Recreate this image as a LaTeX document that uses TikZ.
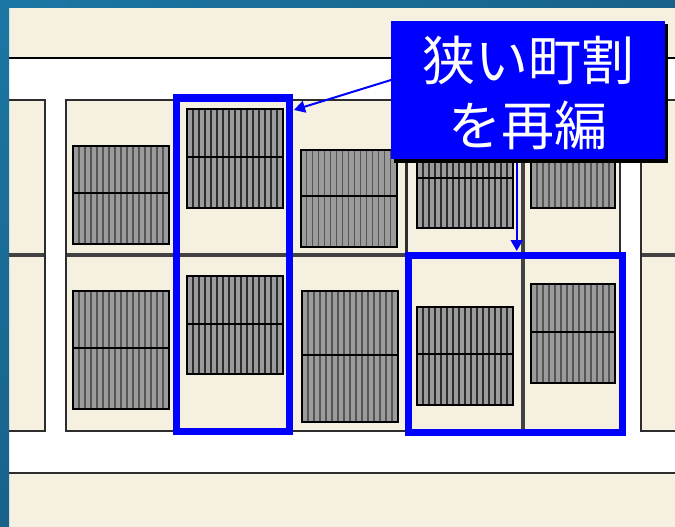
\documentclass[tikz,border=0pt]{standalone}
\usepackage{fontspec}
\newfontfamily\cjkfont{Noto Sans CJK JP}
\usetikzlibrary{arrows.meta}
\definecolor{beige}{RGB}{245,240,223}
\definecolor{roof}{RGB}{155,155,155}
\definecolor{stripeA}{RGB}{85,85,85}
\definecolor{stripeB}{RGB}{45,45,45}
\definecolor{lineG}{RGB}{45,45,45}
\definecolor{callblue}{RGB}{0,0,255}
\definecolor{tealA}{RGB}{27,118,163}
\definecolor{tealB}{RGB}{24,98,138}
\tikzset{
  blockline/.style={draw=lineG,line width=2pt,line cap=rect},
  heavyline/.style={draw=lineG!90!white,line width=3.2pt},
  outline/.style={draw=black,line width=2pt},
  redev/.style={draw=blue,line width=7pt,inner sep=0pt,outer sep=0pt,minimum width=#1},
  calloutbox/.style={fill=callblue,inner sep=0pt,outer sep=0pt,minimum width=274pt,minimum height=138pt},
  callouttext/.style={text=white,inner sep=0pt,align=center,font=\cjkfont\fontsize{53}{65}\selectfont},
  pointer/.style={draw=blue,line width=2pt,-{Triangle[length=11pt,width=12pt]}}
}
\begin{document}
\begin{tikzpicture}[x=1pt,y=-1pt]
\useasboundingbox (0,0) rectangle (675,527);
% frame and ground
\fill[beige] (0,0) rectangle (675,527);
\fill[white] (9,58) rectangle (675,473);
\draw[draw=black,line width=2pt] (9,58) -- (675,58);
\draw[draw=lineG,line width=2pt] (9,473) -- (675,473);
% blocks
\foreach \xa/\xb in {9/44.5,65.5/620,640.5/677}{
  \fill[beige] (\xa,99.5) rectangle (\xb,431);
  \draw[blockline] (\xa,99.5) -- (\xb,99.5);
  \draw[blockline] (\xa,431) -- (\xb,431);
  \draw[heavyline] (\xa,255) -- (\xb,255);
}
\foreach \x in {44.5,65.5,620,640.5}{\draw[blockline] (\x,99.5) -- (\x,431);}
\draw[draw=lineG,line width=2.6pt] (406.5,99.5) -- (406.5,431);
\draw[heavyline] (523,99.5) -- (523,431);
% buildings: x1/y1/x2/y2/mid/number of bays/colour
\foreach \xa/\ya/\xb/\yb/\ym/\n/\c in {
  73/146/169/244/193/16/stripeA,
  187/109/283/207.5/157/16/stripeB,
  300.5/149.5/396.5/246.5/196/16/stripeA,
  417/130/513/228/178/16/stripeB,
  531/110/615/207.5/158/14/stripeA,
  73/290.5/169/408.5/348/16/stripeA,
  187/275.5/283/374/323.5/16/stripeB,
  302/291/398/421.5/355/16/stripeA,
  417/306.5/513/405/354/16/stripeB,
  531/284/615/382.5/331.5/14/stripeA}{
  \fill[roof] (\xa,\ya) rectangle (\xb,\yb);
  \foreach \i in {1,...,\n}{
    \pgfmathsetmacro{\xs}{\xa+(\xb-\xa)*\i/\n}
    \draw[draw=\c,line width=1.5pt] (\xs,\ya) -- (\xs,\yb);
  }
  \draw[outline] (\xa,\ym) -- (\xb,\ym);
  \draw[outline] (\xa,\ya) rectangle (\xb,\yb);
}
% redevelopment outlines
\node[redev=113.5pt,minimum height=333pt] (redevA) at (232.75,264.5) {};
\node[redev=214pt,minimum height=177pt] (redevB) at (515.25,343.5) {};
% callout
\fill[black] (394,24) rectangle (668,162.5);
\node[calloutbox] (note) at (528,90) {};
\node[callouttext] (noteText) at (528,93) {狭い町割\\を再編};
\draw[pointer] ([yshift=10pt]note.west) -- ([xshift=4.5pt,yshift=-12pt]redevA.north east);
\draw[pointer] ([xshift=1.5pt,yshift=-3.5pt]redevB.north |- note.south) -- ([xshift=1.5pt,yshift=4pt]redevB.north);
% window frame
\shade[left color=tealA,right color=tealB] (0,0) rectangle (675,8);
\shade[top color=tealA,bottom color=tealB] (0,0) rectangle (9,527);
\end{tikzpicture}
\end{document}
